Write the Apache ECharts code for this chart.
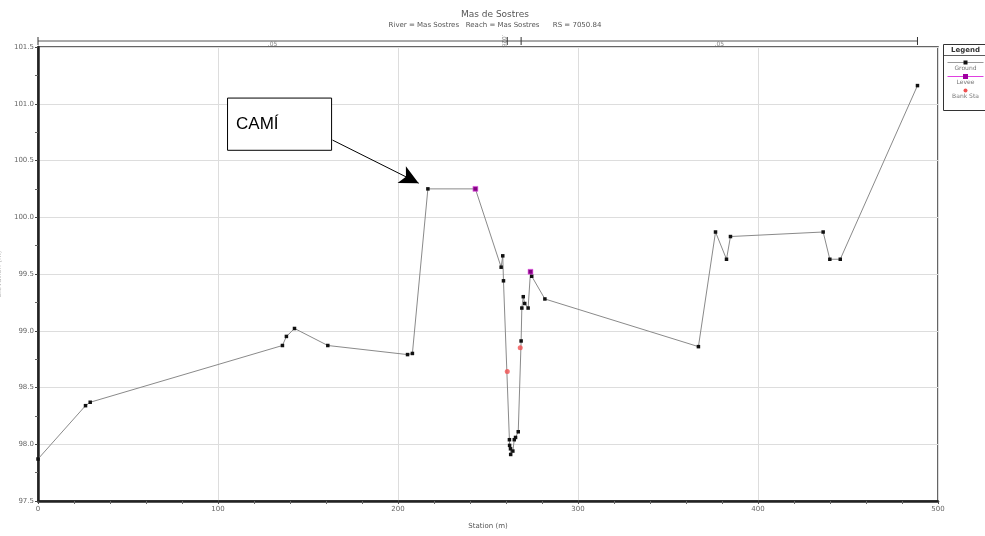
<!DOCTYPE html>
<html>
<head>
<meta charset="utf-8">
<script src="https://cdn.jsdelivr.net/npm/echarts@6/dist/echarts.min.js"></script>
<style>html,body{margin:0;padding:0;background:#fff}#c{width:985px;height:536px}</style>
</head>
<body>
<div id="c"></div>
<script>
// ---- data ----
const groundStations = [0, 26.4, 29.0, 135.8, 138.0, 142.5, 161.0, 205.3, 208.0, 216.6, 243.0, 257.3, 258.2, 258.6, 261.9, 262.0, 262.5, 262.6, 263.8, 264.6, 265.3, 266.8, 268.4, 268.8, 269.6, 270.4, 272.3, 273.6, 274.3, 281.6, 366.9, 376.4, 382.5, 384.7, 436.2, 439.9, 445.7, 488.6];
const groundElev = [97.87, 98.34, 98.37, 98.87, 98.95, 99.02, 98.87, 98.79, 98.80, 100.25, 100.25, 99.56, 99.66, 99.44, 98.04, 97.99, 97.96, 97.91, 97.94, 98.04, 98.06, 98.11, 98.91, 99.20, 99.30, 99.24, 99.20, 99.52, 99.48, 99.28, 98.86, 99.87, 99.63, 99.83, 99.87, 99.63, 99.63, 101.16];
const leveeStations = [243.0, 273.6];
const leveeElev = [100.25, 99.52];
const bankStations = [260.7, 267.9];
const bankElev = [98.64, 98.85];
const manningBreaks = [0, 260.7, 268.4, 488.6];
const manningLabels = ['.05', '.026', '.05'];
const yTicks = [97.5, 98.0, 98.5, 99.0, 99.5, 100.0, 100.5, 101.0, 101.5];
const xTicks = [0, 100, 200, 300, 400, 500];
const annotationText = 'CAMÍ';
const annotationBox = [[105.3, 101.05], [163.1, 100.59]];
const annotationArrow = [[163.6, 100.68], [211.5, 100.30]];

const zip = (a, b) => a.map((v, i) => [v, b[i]]);
const chart = echarts.init(document.getElementById('c'));
const axisFont = { fontFamily: 'DejaVu Sans', fontSize: 7, color: '#666' };

const manningLine = manningBreaks.map(s => [s, 0]);
const manningLabelPts = manningLabels.map((t, i) => ({
  value: [(manningBreaks[i] + manningBreaks[i + 1]) / 2, 0],
  label: i === 1 ? { rotate: -90, position: 'bottom', offset: [0, 8] } : {}
}));

chart.setOption({
  animation: false,
  backgroundColor: '#fff',
  title: {
    text: 'Mas de Sostres',
    subtext: 'River = Mas Sostres   Reach = Mas Sostres      RS = 7050.84',
    left: 490, textAlign: 'center', top: 5, itemGap: 3,
    textStyle: { fontFamily: 'DejaVu Sans', fontSize: 9, fontWeight: 'normal', color: '#555' },
    subtextStyle: { fontFamily: 'DejaVu Sans', fontSize: 7, color: '#555' }
  },
  grid: [
    { left: 38, right: 47, top: 47, bottom: 35, show: true, borderColor: '#333', borderWidth: 1.5, containLabel: false, outerBoundsMode: 'none' },
    { left: 38, right: 47, top: 37, height: 8, containLabel: false, outerBoundsMode: 'none' }
  ],
  xAxis: [{
    type: 'value', min: 0, max: 500, interval: 100,
    name: 'Station (m)', nameLocation: 'middle', nameGap: 22,
    nameTextStyle: { fontFamily: 'DejaVu Sans', fontSize: 7, color: '#555' },
    axisLine: { show: true, lineStyle: { color: '#222', width: 2.5 }, onZero: false },
    axisTick: { show: true, length: 3, inside: false, lineStyle: { color: '#444' } },
    minorTick: { show: true, splitNumber: 5, length: 3, lineStyle: { color: '#666' } },
    axisLabel: Object.assign({ margin: 5 }, axisFont),
    splitLine: { show: true, lineStyle: { color: '#ddd', width: 1 } }
  }, {
    type: 'value', gridIndex: 1, min: 0, max: 500, show: false
  }],
  yAxis: [{
    type: 'value', min: 97.5, max: 101.5, interval: 0.5,
    name: 'Elevation (m)', nameLocation: 'middle', nameGap: 24,
    nameTextStyle: { fontFamily: 'DejaVu Sans', fontSize: 7, color: '#bbb' },
    axisLine: { show: true, lineStyle: { color: '#222', width: 2.5 }, onZero: false },
    axisTick: { show: true, length: 3, lineStyle: { color: '#444' } },
    minorTick: { show: true, splitNumber: 2, length: 3, lineStyle: { color: '#666' } },
    axisLabel: Object.assign({ margin: 4, formatter: v => v.toFixed(1) }, axisFont),
    splitLine: { show: true, lineStyle: { color: '#ddd', width: 1 } }
  }, {
    type: 'value', gridIndex: 1, min: -1, max: 1, show: false
  }],
  series: [{
    name: 'Ground', type: 'line', data: zip(groundStations, groundElev),
    symbol: 'rect', symbolSize: 3.5, showSymbol: true,
    lineStyle: { color: '#8a8a8a', width: 1 }, itemStyle: { color: '#111' },
    z: 3,
    markArea: {
      silent: true,
      itemStyle: { color: '#fff', borderColor: '#000', borderWidth: 1 },
      label: { show: true, position: 'insideLeft', distance: 9, color: '#000', fontFamily: 'Liberation Sans', fontSize: 17 },
      data: [[{ coord: annotationBox[0], name: annotationText }, { coord: annotationBox[1] }]]
    },
    markLine: {
      silent: true, symbol: ['none', 'arrow'], symbolSize: [14, 19],
      lineStyle: { color: '#000', width: 1, type: 'solid' },
      label: { show: false },
      data: [[{ coord: annotationArrow[0] }, { coord: annotationArrow[1] }]]
    }
  }, {
    name: 'Levee', type: 'scatter', data: zip(leveeStations, leveeElev),
    symbol: 'rect', symbolSize: 5, itemStyle: { color: '#a000a0', borderColor: '#e040e0', borderWidth: 0.5 }, z: 4
  }, {
    name: 'Bank Sta', type: 'scatter', data: zip(bankStations, bankElev),
    symbol: 'circle', symbolSize: 5, itemStyle: { color: '#f05050' }, z: 4
  }, {
    name: 'Manning', type: 'line', xAxisIndex: 1, yAxisIndex: 1, data: manningLine,
    symbol: 'rect', symbolSize: [1, 8], showSymbol: true,
    lineStyle: { color: '#555', width: 1 }, itemStyle: { color: '#333' }
  }, {
    name: 'ManningN', type: 'scatter', xAxisIndex: 1, yAxisIndex: 1, data: manningLabelPts,
    symbolSize: 0,
    label: { show: true, position: 'bottom', distance: 0, formatter: p => manningLabels[p.dataIndex], fontFamily: 'DejaVu Sans', fontSize: 6, color: '#666' }
  }],
  graphic: [{
    type: 'group', left: 941, top: 44,
    children: [
      { type: 'rect', shape: { x: 0, y: 0, width: 50, height: 66 }, style: { fill: '#fff', stroke: '#333', lineWidth: 1 } },
      { type: 'text', x: 22, y: 2, style: { text: 'Legend', fontFamily: 'DejaVu Sans', fontSize: 7, fontWeight: 'bold', fill: '#333', align: 'center' } },
      { type: 'line', shape: { x1: 0, y1: 11, x2: 50, y2: 11 }, style: { stroke: '#333', lineWidth: 0.8 } },
      { type: 'line', shape: { x1: 4, y1: 18, x2: 40, y2: 18 }, style: { stroke: '#999', lineWidth: 1 } },
      { type: 'rect', shape: { x: 20, y: 16, width: 4, height: 4 }, style: { fill: '#111' } },
      { type: 'text', x: 22, y: 21, style: { text: 'Ground', fontFamily: 'DejaVu Sans', fontSize: 6, fill: '#777', align: 'center' } },
      { type: 'line', shape: { x1: 4, y1: 32, x2: 40, y2: 32 }, style: { stroke: '#e040e0', lineWidth: 1 } },
      { type: 'rect', shape: { x: 19.5, y: 29.5, width: 5, height: 5 }, style: { fill: '#a000a0' } },
      { type: 'text', x: 22, y: 35, style: { text: 'Levee', fontFamily: 'DejaVu Sans', fontSize: 6, fill: '#777', align: 'center' } },
      { type: 'circle', shape: { cx: 22, cy: 46, r: 2 }, style: { fill: '#f05050' } },
      { type: 'text', x: 22, y: 49, style: { text: 'Bank Sta', fontFamily: 'DejaVu Sans', fontSize: 6, fill: '#777', align: 'center' } }
    ]
  }]
});
</script>
</body>
</html>
